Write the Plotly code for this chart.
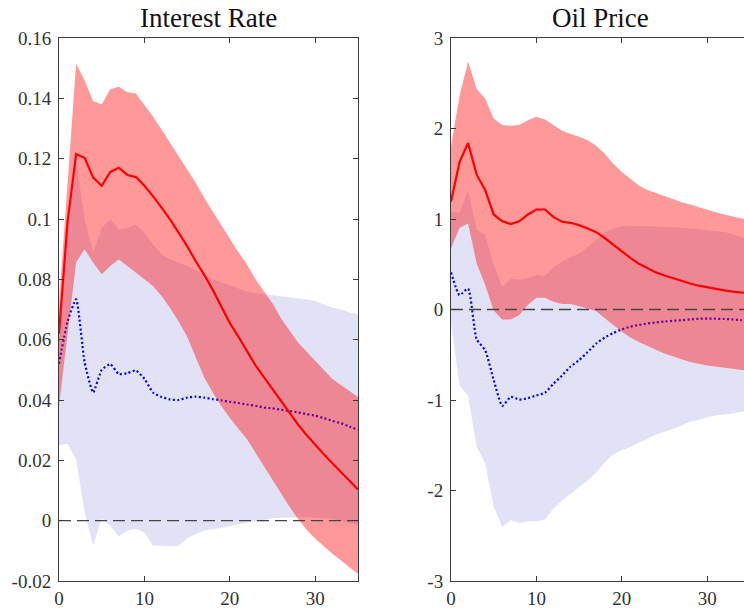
import plotly.graph_objects as go

# ---------------- data ----------------
horizon = list(range(36))

ir_red_mid = [0.062, 0.099, 0.1215, 0.1203, 0.1137, 0.111, 0.1156, 0.117, 0.1146, 0.1139,
              0.111, 0.1076, 0.1038, 0.0999, 0.0955, 0.091, 0.086, 0.0815, 0.0765, 0.071,
              0.0655, 0.061, 0.056, 0.0515, 0.0475, 0.0435, 0.0395, 0.0355, 0.0318, 0.0283,
              0.025, 0.022, 0.019, 0.016, 0.013, 0.0103]
ir_red_hi = [0.072, 0.112, 0.1515, 0.146, 0.139, 0.138, 0.143, 0.1438, 0.142, 0.1416,
             0.138, 0.134, 0.1297, 0.1253, 0.1209, 0.1164, 0.112, 0.107, 0.1025, 0.098,
             0.0935, 0.089, 0.085, 0.080, 0.076, 0.072, 0.067, 0.063, 0.059, 0.056,
             0.053, 0.050, 0.047, 0.045, 0.043, 0.041]
ir_red_lo = [0.038, 0.062, 0.0856, 0.090, 0.0855, 0.0817, 0.0844, 0.0866, 0.0844, 0.0822,
             0.080, 0.0778, 0.0745, 0.0705, 0.066, 0.061, 0.0545, 0.0475, 0.0425, 0.038,
             0.034, 0.0305, 0.027, 0.0225, 0.018, 0.0135, 0.009, 0.0045, 0.0005, -0.003,
             -0.006, -0.0085, -0.011, -0.013, -0.0155, -0.0177]
ir_blue_mid = [0.052, 0.066, 0.0734, 0.0525, 0.0425, 0.050, 0.0519, 0.0486, 0.0489, 0.0498,
               0.047, 0.0425, 0.041, 0.0402, 0.040, 0.0408, 0.0411, 0.0408, 0.0403, 0.0399,
               0.0394, 0.039, 0.0385, 0.0381, 0.0375, 0.0372, 0.0368, 0.0363, 0.0359, 0.0353,
               0.0348, 0.034, 0.0331, 0.0323, 0.0312, 0.0301]
ir_blue_hi = [0.062, 0.095, 0.1197, 0.0999, 0.0889, 0.097, 0.100, 0.0966, 0.097, 0.0982,
              0.0955, 0.0916, 0.0883, 0.0866, 0.0855, 0.0845, 0.083, 0.0815, 0.080, 0.079,
              0.078, 0.077, 0.076, 0.0755, 0.075, 0.0747, 0.0744, 0.0741, 0.0736, 0.0733,
              0.0728, 0.0717, 0.0706, 0.070, 0.069, 0.0684]
ir_blue_lo = [0.025, 0.0255, 0.0204, 0.0028, -0.0083, 0.0008, -0.0017, -0.0052, -0.0033, -0.0028,
              -0.0039, -0.0083, -0.0083, -0.0085, -0.0083, -0.0058, -0.0044, -0.0033, -0.0028, -0.0024,
              -0.0019, -0.0012, -0.0006, -0.0001, 0.0003, 0.0008, 0.001, 0.0011, 0.0011, 0.0011,
              0.001, 0.0008, 0.0006, 0.0, -0.0008, -0.0014]

op_red_mid = [1.19, 1.63, 1.84, 1.49, 1.32, 1.05, 0.975, 0.945, 0.975, 1.05,
              1.105, 1.105, 1.02, 0.97, 0.958, 0.932, 0.896, 0.855, 0.79, 0.715,
              0.64, 0.57, 0.505, 0.454, 0.41, 0.375, 0.343, 0.313, 0.287, 0.263,
              0.243, 0.226, 0.211, 0.198, 0.187, 0.178]
op_red_hi = [1.80, 2.36, 2.74, 2.44, 2.33, 2.11, 2.04, 2.03, 2.04, 2.09,
             2.13, 2.10, 2.04, 1.975, 1.94, 1.91, 1.87, 1.81, 1.72, 1.61,
             1.52, 1.44, 1.37, 1.32, 1.29, 1.255, 1.22, 1.185, 1.16, 1.13,
             1.10, 1.075, 1.05, 1.03, 1.007, 0.985]
op_red_lo = [0.675, 0.90, 0.95, 0.51, 0.27, -0.01, -0.11, -0.11, -0.06, 0.05,
             0.13, 0.13, 0.085, 0.06, 0.06, 0.037, 0.011, -0.02, -0.09, -0.17,
             -0.246, -0.31, -0.36, -0.405, -0.445, -0.485, -0.52, -0.55, -0.58, -0.60,
             -0.618, -0.632, -0.645, -0.655, -0.668, -0.68]
op_blue_mid = [0.41, 0.16, 0.23, -0.33, -0.45, -0.78, -1.065, -0.965, -0.995, -0.98,
               -0.95, -0.92, -0.82, -0.73, -0.63, -0.56, -0.47, -0.376, -0.31, -0.26,
               -0.22, -0.19, -0.17, -0.155, -0.144, -0.133, -0.125, -0.118, -0.11, -0.102,
               -0.10, -0.102, -0.105, -0.11, -0.118, -0.125]
op_blue_hi = [1.08, 1.07, 1.32, 0.88, 0.82, 0.50, 0.25, 0.34, 0.33, 0.35,
              0.38, 0.37, 0.47, 0.53, 0.58, 0.62, 0.69, 0.77, 0.85, 0.895,
              0.92, 0.925, 0.925, 0.922, 0.918, 0.915, 0.91, 0.905, 0.895, 0.89,
              0.877, 0.868, 0.855, 0.835, 0.80, 0.78]
op_blue_lo = [-0.15, -0.84, -0.95, -1.52, -1.70, -2.18, -2.40, -2.33, -2.36, -2.34,
              -2.34, -2.32, -2.20, -2.11, -2.03, -1.96, -1.89, -1.80, -1.69, -1.60,
              -1.555, -1.52, -1.47, -1.43, -1.38, -1.35, -1.32, -1.28, -1.24, -1.22,
              -1.19, -1.17, -1.16, -1.15, -1.13, -1.12]

titles = ["Interest Rate", "Oil Price"]
x_ticks = [0, 10, 20, 30]
ir_ticks = [-0.02, 0, 0.02, 0.04, 0.06, 0.08, 0.1, 0.12, 0.14, 0.16]
ir_tick_text = ["-0.02", "0", "0.02", "0.04", "0.06", "0.08", "0.1", "0.12", "0.14", "0.16"]
op_ticks = [-3, -2, -1, 0, 1, 2, 3]
op_tick_text = ["-3", "-2", "-1", "0", "1", "2", "3"]

# ---------------- styling ----------------
W, H = 744, 613
BLUE_BAND = "#E2E2F6"
RED_BAND = "rgba(255,0,0,0.40)"
AXIS_COL = "#3a3a3a"
FONT = "Liberation Serif"

fig = go.Figure()


def add_panel(xa, ya, red_mid, red_hi, red_lo, blue_mid, blue_hi, blue_lo):
    xs = horizon
    fig.add_trace(go.Scatter(x=xs + xs[::-1], y=blue_hi + blue_lo[::-1], fill="toself",
                             fillcolor=BLUE_BAND, line=dict(width=0), mode="lines",
                             hoverinfo="skip", xaxis=xa, yaxis=ya, showlegend=False))
    fig.add_trace(go.Scatter(x=xs, y=blue_mid, mode="lines",
                             line=dict(color="#0000FF", width=2.2, dash="2px,2.4px",
                                       shape="spline", smoothing=0.5),
                             xaxis=xa, yaxis=ya, showlegend=False))
    fig.add_trace(go.Scatter(x=xs + xs[::-1], y=red_hi + red_lo[::-1], fill="toself",
                             fillcolor=RED_BAND, line=dict(width=0), mode="lines",
                             hoverinfo="skip", xaxis=xa, yaxis=ya, showlegend=False))
    fig.add_trace(go.Scatter(x=xs, y=red_mid, mode="lines",
                             line=dict(color="#FF0000", width=2.2),
                             xaxis=xa, yaxis=ya, showlegend=False))
    fig.add_trace(go.Scatter(x=[xs[0], xs[-1]], y=[0, 0], mode="lines",
                             line=dict(color="#444444", width=1.4, dash="12px,6px"),
                             xaxis=xa, yaxis=ya, showlegend=False))


add_panel("x", "y", ir_red_mid, ir_red_hi, ir_red_lo, ir_blue_mid, ir_blue_hi, ir_blue_lo)
add_panel("x2", "y2", op_red_mid, op_red_hi, op_red_lo, op_blue_mid, op_blue_hi, op_blue_lo)

y_dom = [(H - 581) / H, (H - 38) / H]
tickfont = dict(family=FONT, size=19, color="#333333")
common_axis = dict(showgrid=False, zeroline=False, showline=True, linecolor=AXIS_COL,
                   linewidth=1, ticks="inside", ticklen=5, tickwidth=1, tickcolor=AXIS_COL,
                   tickfont=tickfont, automargin=False)

fig.update_layout(
    width=W, height=H,
    margin=dict(l=0, r=0, t=0, b=0, pad=0, autoexpand=False),
    paper_bgcolor="white", plot_bgcolor="white",
    showlegend=False,
    xaxis=dict(domain=[59 / W, 358 / W], range=[0, 35], tickvals=x_ticks,
               mirror="ticks", anchor="y", **common_axis),
    yaxis=dict(domain=y_dom, range=[-0.02, 0.16], tickvals=ir_ticks, ticktext=ir_tick_text,
               mirror="ticks", anchor="x", ticklabelstandoff=3, **common_axis),
    xaxis2=dict(domain=[451 / W, 1.0], range=[0, 293 / 8.54], tickvals=x_ticks,
                mirror="ticks", anchor="y2", **common_axis),
    yaxis2=dict(domain=y_dom, range=[-3, 3], tickvals=op_ticks, ticktext=op_tick_text,
                mirror=False, anchor="x2", ticklabelstandoff=3, **common_axis),
)

title_centers = [208.5 / W, 600.5 / W]
for t, cx in zip(titles, title_centers):
    fig.add_annotation(text=t, x=cx, y=1 - 18 / H, xref="paper", yref="paper",
                       xanchor="center", yanchor="middle", showarrow=False,
                       font=dict(family=FONT, size=27, color="#111111"))

fig.write_html("out.html")
